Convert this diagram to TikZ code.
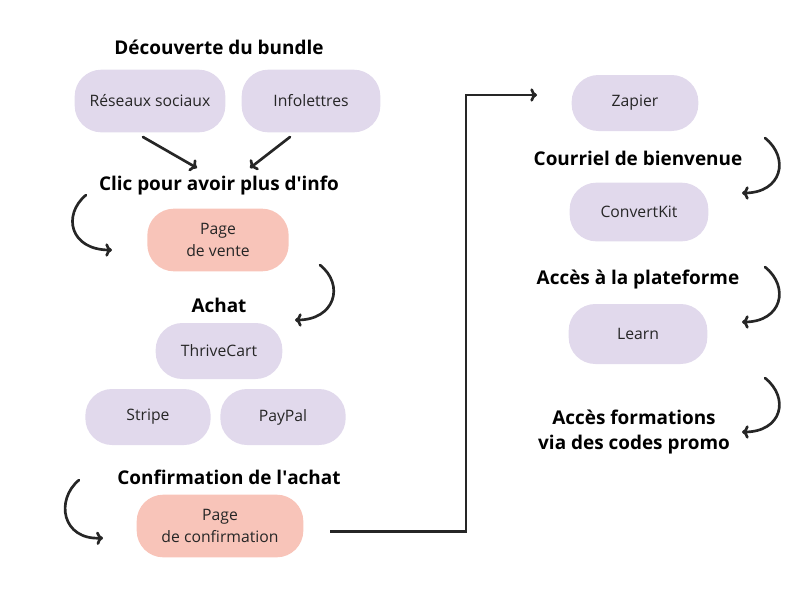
\documentclass[tikz,border=0pt]{standalone}
\usepackage{fontspec}
\setmainfont{Open Sans}[Ligatures=ResetAll]
\usetikzlibrary{arrows.meta}
\definecolor{lav}{HTML}{E1D9EC}
\definecolor{pinkb}{HTML}{F8C4B9}
\definecolor{ink}{HTML}{262626}
\begin{document}
\begin{tikzpicture}[x=0.75pt,y=-0.75pt,
  box/.style={rounded corners=20pt,inner sep=0pt,align=center,font=\fontsize{11.8}{17}\selectfont,text=ink},
  lavbox/.style={box,fill=lav},
  pinkbox/.style={box,fill=pinkb},
  head/.style={font=\bfseries\fontsize{14.2}{19}\selectfont,text=black,align=center},
  arr/.style={draw=ink,line width=2pt,-{To[length=5pt,width=10pt]},line cap=round}]
\useasboundingbox (0,0) rectangle (800,600);
\node[head] (h1) at (219,47) {Découverte du bundle};
\node[lavbox,minimum width=113pt,minimum height=47pt] (rs) at (150,101) {Réseaux sociaux};
\node[lavbox,minimum width=104pt,minimum height=47pt] (inf) at (311,101) {Infolettres};
\coordinate (a1s) at (143,137); \coordinate (a1e) at (197,168);
\coordinate (a2s) at (290,137); \coordinate (a2e) at (250,168);
\draw[arr] (a1s) -- (a1e);
\draw[arr] (a2s) -- (a2e);
\node[head] (h2) at (219,186) {Clic pour avoir plus d\textquotesingle info};
\node[pinkbox,minimum width=106pt,minimum height=47pt] (pv) at (218,240) {Page\\de vente};
\node[head] (h3) at (219,305) {Achat};
\node[lavbox,minimum width=95pt,minimum height=42pt] (tc) at (219,351) {ThriveCart};
\node[lavbox,minimum width=94pt,minimum height=42pt] (st) at (148,417) {Stripe};
\node[lavbox,minimum width=94pt,minimum height=42pt] (pp) at (283,417) {PayPal};
\node[head] (h4) at (229,477) {Confirmation de l\textquotesingle achat};
\node[pinkbox,minimum width=125pt,minimum height=47pt] (pc) at (220,526) {Page\\de confirmation};
\node[lavbox,minimum width=95pt,minimum height=42pt] (zp) at (635,103) {Zapier};
\node[head] (h5) at (638,158) {Courriel de bienvenue};
\node[lavbox,minimum width=104pt,minimum height=44pt] (ck) at (639,212) {ConvertKit};
\node[head] (h6) at (638,280) {Accès à la plateforme};
\node[lavbox,minimum width=104pt,minimum height=45pt] (ln) at (638,334) {Learn};
\node[head] (h7) at (634,432) {Accès formations\\via des codes promo};
% curved arrows
\coordinate (c1s) at (86,195); \coordinate (c1e) at (112,250);
\draw[arr] (c1s) .. controls (62,215) and (70,250) .. (c1e);
\coordinate (c2s) at (320,265); \coordinate (c2e) at (295,320);
\draw[arr] (c2s) .. controls (345,285) and (335,320) .. (c2e);
\coordinate (c3s) at (79,480); \coordinate (c3e) at (103,538);
\draw[arr] (c3s) .. controls (55,500) and (62,540) .. (c3e);
\coordinate (c4s) at (765,138); \coordinate (c4e) at (742,193);
\draw[arr] (c4s) .. controls (790,158) and (782,193) .. (c4e);
\coordinate (c5s) at (765,267); \coordinate (c5e) at (742,322);
\draw[arr] (c5s) .. controls (790,287) and (782,322) .. (c5e);
\coordinate (c6s) at (765,378); \coordinate (c6e) at (742,432);
\draw[arr] (c6s) .. controls (790,398) and (782,432) .. (c6e);
% long connector
\coordinate (le) at (537,95);
\draw[draw=ink,line width=2pt,-{To[length=5pt,width=10pt]}] (pc.east) ++(20pt,-4pt) -| (466,95) -- (le);
\end{tikzpicture}
\end{document}
